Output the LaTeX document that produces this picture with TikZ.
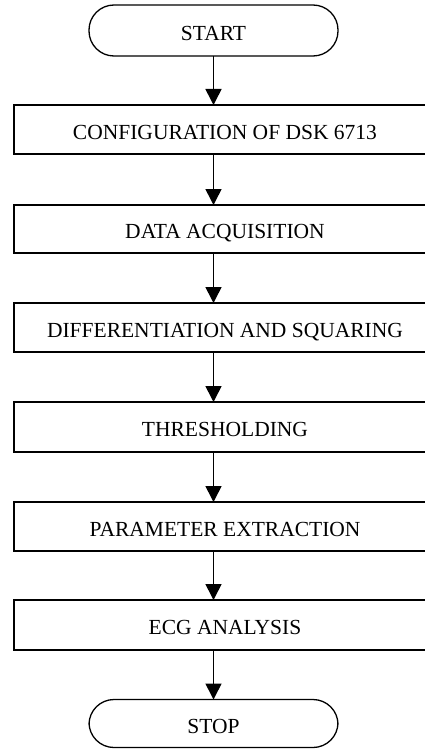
\documentclass[tikz,border=0pt]{standalone}
\usepackage{fontspec}
\setmainfont{Liberation Serif}
\usetikzlibrary{arrows.meta}
\begin{document}
\begin{tikzpicture}[x=1pt,y=-1pt,
  every node/.style={font=\fontsize{21.5}{24}\selectfont, inner sep=0pt, outer sep=0pt, text height=19.5pt, text depth=0pt},
  procbox/.style={draw, line width=1.3pt, rectangle, minimum width=422pt},
  termbox/.style={draw, line width=1.3pt, rectangle, rounded corners=25pt, minimum width=249pt},
  flowarrow/.style={line width=1.6pt, -{Triangle[length=16pt,width=16pt]}}]
\useasboundingbox (0,0) rectangle (425,749);
\clip (0,0) rectangle (425,749);
\node[termbox, minimum height=51pt] (start) at (213.5,30.5) {START};
\node[procbox, minimum height=49pt] (b1) at (225,129.5) {CONFIGURATION OF DSK 6713};
\node[procbox, minimum height=48pt] (b2) at (225,229) {DATA ACQUISITION};
\node[procbox, minimum height=49pt] (b3) at (225,327.5) {DIFFERENTIATION AND SQUARING};
\node[procbox, minimum height=50pt] (b4) at (225,427) {THRESHOLDING};
\node[procbox, minimum height=49pt] (b5) at (225,526.5) {PARAMETER EXTRACTION};
\node[procbox, minimum height=50pt] (b6) at (225,625) {ECG ANALYSIS};
\node[termbox, minimum height=48pt] (stop) at (213.5,723.5) {STOP};
\draw[flowarrow] (start.south) -- (start.south |- b1.north);
\draw[flowarrow] (b1.south -| start) -- (b2.north -| start);
\draw[flowarrow] (b2.south -| start) -- (b3.north -| start);
\draw[flowarrow] (b3.south -| start) -- (b4.north -| start);
\draw[flowarrow] (b4.south -| start) -- (b5.north -| start);
\draw[flowarrow] (b5.south -| start) -- (b6.north -| start);
\draw[flowarrow] (b6.south -| start) -- (stop.north);
\end{tikzpicture}
\end{document}
